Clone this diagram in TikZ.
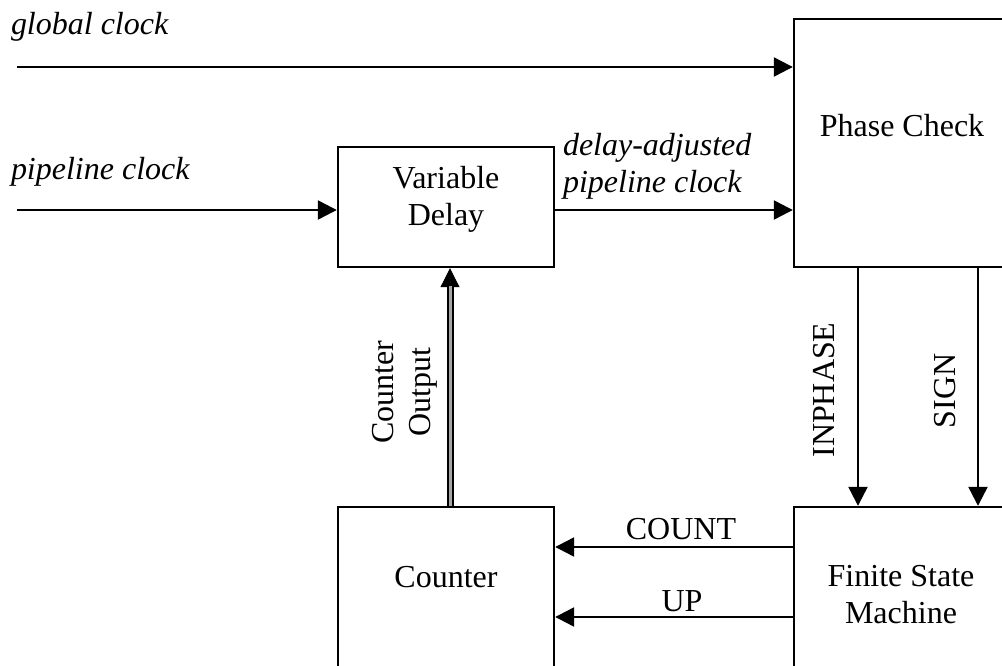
\documentclass[tikz,border=0pt]{standalone}
\usepackage{fontspec}
\setmainfont{Liberation Serif}
\usetikzlibrary{arrows.meta}
\begin{document}
\begin{tikzpicture}[x=1pt,y=-1pt,
  every node/.style={inner sep=0pt, outer sep=0pt},
  txt/.style={font=\fontsize{32}{37}\selectfont, align=center},
  itxt/.style={font=\fontsize{32}{37}\selectfont\itshape, align=left},
  blk/.style={draw=black, line width=2.4pt, fill=white, outer sep=1.2pt},
  sig/.style={line width=2.3pt, -{Triangle[length=19pt,width=19pt]}},
  bus/.style={line width=2pt, double=black!35, double distance=3pt}
]
\clip (0,0) rectangle (1002,666);
\fill[white] (0,0) rectangle (1002,666);

% blocks
\node[blk, minimum width=216, minimum height=248] (pc) at (902,143) {};
\node[blk, minimum width=216, minimum height=120] (vd) at (446,207) {};
\node[blk, minimum width=216, minimum height=162] (cnt) at (446,588) {};
\node[blk, minimum width=216, minimum height=162] (fsm) at (902,588) {};

% block texts
\node[txt, anchor=base] (pct) at (902,137) {Phase Check};
\node[txt] (vdt) at (446,199) {Variable\\Delay};
\node[txt, anchor=base] (cntt) at (446,587) {Counter};
\node[txt] (fsmt) at (901,595) {Finite State\\Machine};

% coordinates
\coordinate (gcs) at (17,67);
\coordinate (pcs) at (17,210);
\coordinate (cox) at (450,0);
\coordinate (inx) at (858,0);
\coordinate (sgx) at (978,0);
\coordinate (cty) at (0,547);
\coordinate (upy) at (0,617);

% connectors
\draw[sig] (gcs) -- (pc.west |- gcs);
\draw[sig] (pcs) -- (vd.west |- pcs);
\draw[sig] (vd.east |- pcs) -- (pc.west |- pcs);
\draw[sig] (pc.south -| inx) -- (fsm.north -| inx);
\draw[sig] (pc.south -| sgx) -- (fsm.north -| sgx);
\draw[sig] (fsm.west |- cty) -- (cnt.east |- cty);
\draw[sig] (fsm.west |- upy) -- (cnt.east |- upy);
\draw[sig, line width=1pt] (cnt.north -| cox) -- (vd.south -| cox);
\draw[bus, shorten >=18pt] (cnt.north -| cox) -- (vd.south -| cox);

% labels
\node[itxt, anchor=base west] (gcl) at (11,35) {global clock};
\node[itxt, anchor=base west] (pcl) at (11,180) {pipeline clock};
\node[itxt, anchor=west] (dal) at (563,166) {delay-adjusted\\pipeline clock};
\node[txt, rotate=90] (col) at (405,392) {Counter\\Output};
\node[txt, rotate=90] (inl) at (824,390) {INPHASE};
\node[txt, rotate=90] (sgl) at (945,391) {SIGN};
\node[txt, anchor=base] (ctl) at (681,539) {COUNT};
\node[txt, anchor=base] (upl) at (682,611) {UP};
\end{tikzpicture}
\end{document}
